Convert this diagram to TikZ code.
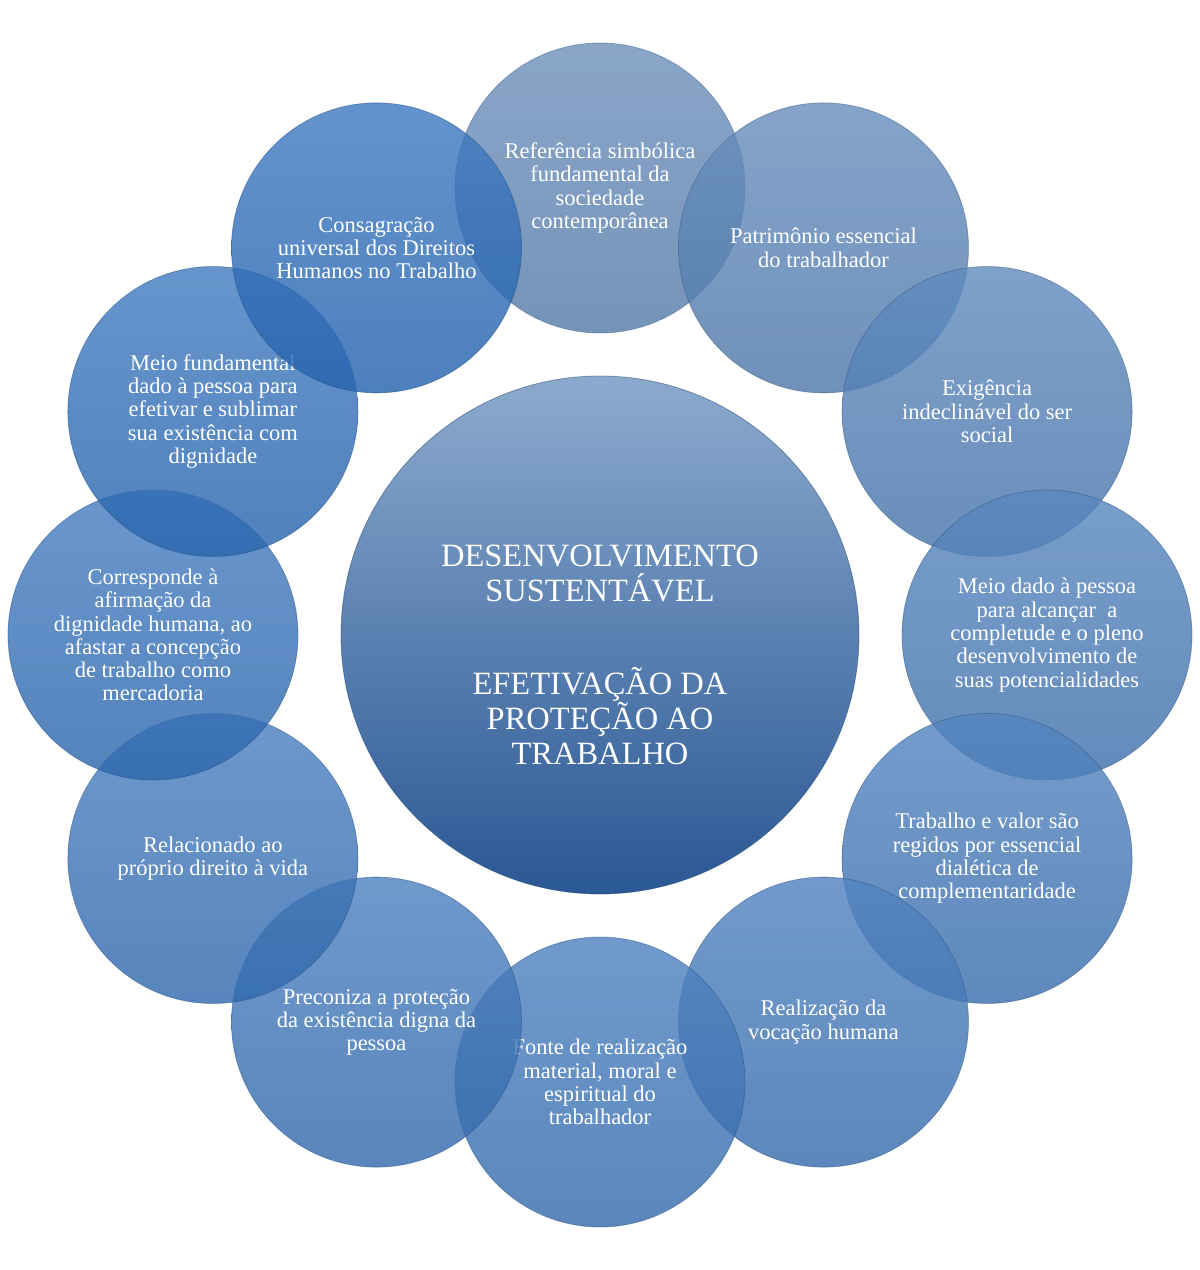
\documentclass[tikz,border=0pt]{standalone}
\usepackage{fontspec}
\setmainfont{Liberation Serif}
\usepackage{tikz}
\usetikzlibrary{positioning}
\definecolor{mgray}{RGB}{92, 132, 180}
\definecolor{mblue}{RGB}{36, 104, 186}
\definecolor{ctop}{RGB}{140, 170, 206}
\definecolor{cbot}{RGB}{42, 88, 148}
\tikzset{petal/.style = {circle, minimum size = 290, inner sep = 0,
                         top color = #1!88!white, bottom color = #1!94!black,
                         draw = #1!70!black, draw opacity = 0.45, line width = 0.8,
                         fill opacity = 0.82, text opacity = 1, text = white,
                         align = center, font = \fontsize{22.5}{23.3}\selectfont}}
\tikzset{core/.style = {circle, minimum size = 518, inner sep = 0,
                        top color = ctop, bottom color = cbot,
                        draw = cbot!80!black, draw opacity = 0.5, line width = 0.8,
                        text = white, align = center,
                        font = \fontsize{32.5}{35}\selectfont}}

\begin{document}
\begin{tikzpicture}[x=1pt, y=1pt]
      \useasboundingbox (-600, -635) rectangle (600, 635);

      \node [core] (centro) at (0, 0) {\rule{0pt}{62pt}DESENVOLVIMENTO\\SUSTENTÁVEL\\[58pt]EFETIVAÇÃO DA\\PROTEÇÃO AO\\TRABALHO};

      \node [petal=mgray] (referencia) at (90:447) {Referência simbólica\\fundamental da\\sociedade\\contemporânea};
      \node [petal=mgray!86!mblue] (patrimonio) at (60:447) {Patrimônio essencial\\do trabalhador};
      \node [petal=mgray!72!mblue] (exigencia) at (30:447) {Exigência\\indeclinável do ser\\social};
      \node [petal=mgray!58!mblue] (meiodado) at (0:447) {Meio dado à pessoa\\para alcançar\ \ a\\completude e o pleno\\desenvolvimento de\\suas potencialidades};
      \node [petal=mgray!48!mblue] (trabalho) at (-30:447) {Trabalho e valor são\\regidos por essencial\\dialética de\\complementaridade};
      \node [petal=mgray!42!mblue] (realizacao) at (-60:447) {Realização da\\vocação humana};
      \node [petal=mgray!38!mblue] (fonte) at (-90:447) {Fonte de realização\\material, moral e\\espiritual do\\trabalhador};
      \node [petal=mgray!34!mblue] (preconiza) at (-120:447) {Preconiza a proteção\\da existência digna da\\pessoa};
      \node [petal=mgray!30!mblue] (relacionado) at (-150:447) {Relacionado ao\\próprio direito à vida};
      \node [petal=mgray!22!mblue] (corresponde) at (180:447) {Corresponde à\\afirmação da\\dignidade humana, ao\\afastar a concepção\\de trabalho como\\mercadoria};
      \node [petal=mgray!14!mblue] (meiofund) at (150:447) {Meio fundamental\\dado à pessoa para\\efetivar e sublimar\\sua existência com\\dignidade};
      \node [petal=mgray!6!mblue] (consagracao) at (120:447) {Consagração\\universal dos Direitos\\Humanos no Trabalho};
\end{tikzpicture}
\end{document}
